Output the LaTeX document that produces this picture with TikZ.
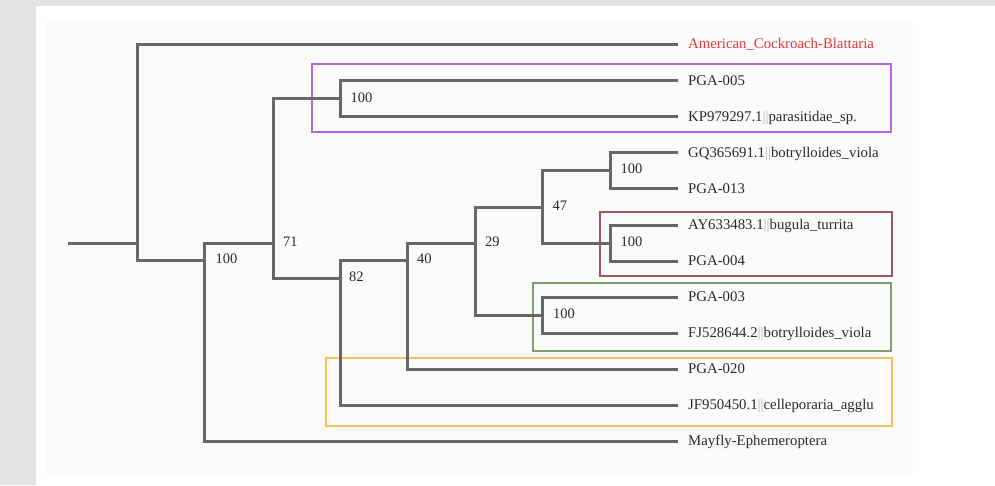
\documentclass[tikz,border=0pt]{standalone}
\usepackage{fontspec}
\setmainfont{Liberation Serif}
\definecolor{outerbg}{HTML}{E3E3E3}
\definecolor{innerbg}{HTML}{FBFBFB}
\definecolor{branch}{HTML}{676767}
\definecolor{txt}{HTML}{2A2A2A}
\definecolor{redtxt}{HTML}{E53A36}
\definecolor{bargrey}{HTML}{B8B8B8}
\definecolor{boxpurple}{HTML}{B266E6}
\definecolor{boxbrown}{HTML}{9E5458}
\definecolor{boxgreen}{HTML}{7DA06E}
\definecolor{boxorange}{HTML}{F5BF62}
\newcommand{\vbars}{{\color{bargrey}||}}
\begin{document}
\begin{tikzpicture}[x=1pt,y=-1pt,
  br/.style={draw=branch, line width=3pt, line join=miter},
  leaf/.style={anchor=west, inner sep=0pt, text height=9.8pt, text depth=0pt,
    font=\fontsize{14.8}{17}\selectfont, text=txt},
  boot/.style={anchor=west, inner sep=0pt, text height=9.8pt, text depth=0pt,
    font=\fontsize{14.5}{17}\selectfont, text=txt},
  grp/.style={line width=2pt}]
\useasboundingbox (0,0) rectangle (995,485);
\fill[outerbg] (0,0) rectangle (995,485);
\fill[white] (36,6) rectangle (995,485);
\fill[innerbg] (46,22) rectangle (913,474);

% leaves
\node[leaf, text=redtxt] (l1) at (688,44) {American\_Cockroach-Blattaria};
\node[leaf] (l2) at (688,80.5) {PGA-005};
\node[leaf] (l3) at (688,116.5) {KP979297.1\vbars parasitidae\_sp.};
\node[leaf] (l4) at (688,152.5) {GQ365691.1\vbars botrylloides\_viola};
\node[leaf] (l5) at (688,188.5) {PGA-013};
\node[leaf] (l6) at (688,225) {AY633483.1\vbars bugula\_turrita};
\node[leaf] (l7) at (688,261) {PGA-004};
\node[leaf] (l8) at (688,297) {PGA-003};
\node[leaf] (l9) at (688,333) {FJ528644.2\vbars botrylloides\_viola};
\node[leaf] (l10) at (688,369) {PGA-020};
\node[leaf] (l11) at (688,405) {JF950450.1\vbars celleporaria\_agglu};
\node[leaf] (l12) at (688,441) {Mayfly-Ephemeroptera};

% group boxes
\draw[grp, boxpurple] (311.5,64) rectangle (890.5,131.5);
\draw[grp, boxbrown] (599.5,212) rectangle (892,276);
\draw[grp, boxgreen] (532.5,283) rectangle (891,350.5);
\draw[grp, boxorange] (326,357.5) rectangle (892,425.5);

% internal nodes
\coordinate (start) at (68,243);
\coordinate (r) at (137,243);
\coordinate (n100) at (204.5,260.5);
\coordinate (n71) at (273,243);
\coordinate (nA) at (340,98.5);
\coordinate (n82) at (340,278.5);
\coordinate (n40) at (407.5,260.5);
\coordinate (n29) at (475,243);
\coordinate (n47) at (542.5,207);
\coordinate (nB) at (610.5,170.5);
\coordinate (nC) at (610.5,243);
\coordinate (nD) at (542.5,315);

% branches
\draw[br] (start) -- (r);
\draw[br] ([xshift=-10pt]l1.west) -| (r) |- (n100);
\draw[br] (n71) -| (n100) |- ([xshift=-10pt]l12.west);
\draw[br] (nA) -| (n71) |- (n82);
\draw[br] ([xshift=-10pt]l2.west) -| (nA) |- ([xshift=-10pt]l3.west);
\draw[br] (n40) -| (n82) |- ([xshift=-10pt]l11.west);
\draw[br] (n29) -| (n40) |- ([xshift=-10pt]l10.west);
\draw[br] (n47) -| (n29) |- (nD);
\draw[br] (nB) -| (n47) |- (nC);
\draw[br] ([xshift=-10pt]l4.west) -| (nB) |- ([xshift=-10pt]l5.west);
\draw[br] ([xshift=-10pt]l6.west) -| (nC) |- ([xshift=-10pt]l7.west);
\draw[br] ([xshift=-10pt]l8.west) -| (nD) |- ([xshift=-10pt]l9.west);

% bootstrap values
\node[boot] (b100) at ([xshift=11pt,yshift=1.5pt]n100) {100};
\node[boot] (b71) at ([xshift=10pt,yshift=1.5pt]n71) {71};
\node[boot] (bA) at ([xshift=10.5pt,yshift=1pt]nA) {100};
\node[boot] (b82) at ([xshift=9pt,yshift=1.5pt]n82) {82};
\node[boot] (b40) at ([xshift=9.5pt,yshift=1.5pt]n40) {40};
\node[boot] (b29) at ([xshift=10pt,yshift=1.5pt]n29) {29};
\node[boot] (b47) at ([xshift=10pt,yshift=1.5pt]n47) {47};
\node[boot] (bB) at ([xshift=10pt,yshift=1.5pt]nB) {100};
\node[boot] (bC) at ([xshift=10pt,yshift=1.5pt]nC) {100};
\node[boot] (bD) at ([xshift=10.5pt,yshift=1.5pt]nD) {100};
\end{tikzpicture}
\end{document}
